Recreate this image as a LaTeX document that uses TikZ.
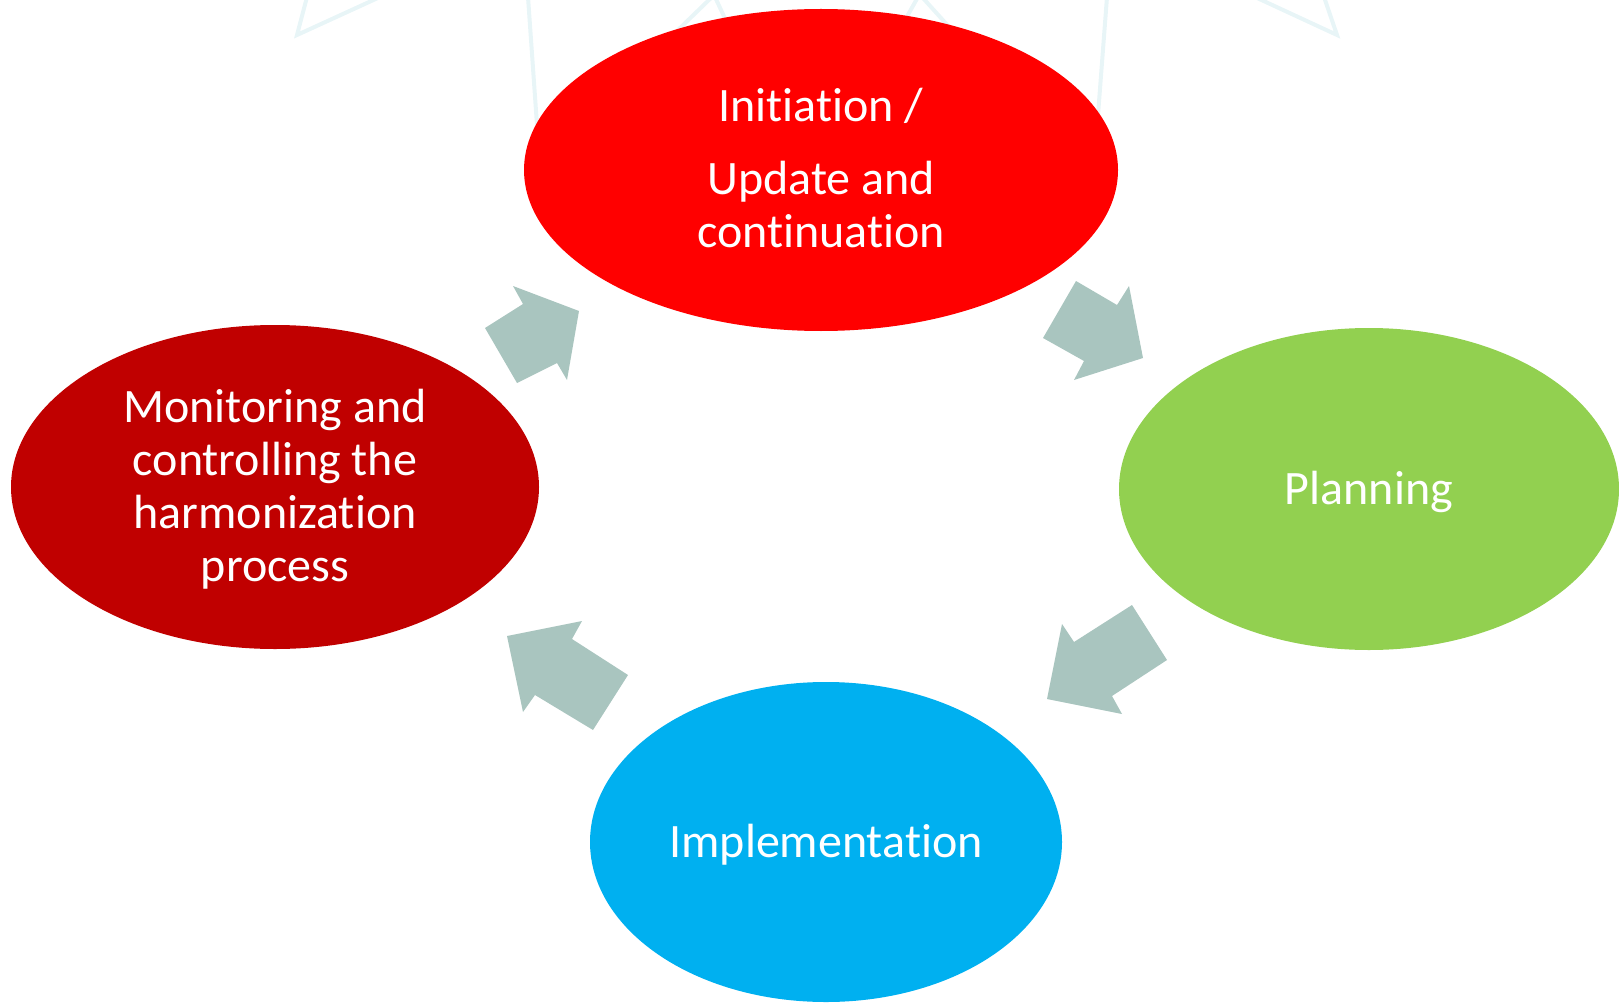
\documentclass[tikz,border=0pt]{standalone}
\usepackage{fontspec}
\setmainfont{Carlito}[Ligatures={NoCommon}]
\usetikzlibrary{shapes.geometric}
\definecolor{cRed}{HTML}{FF0000}
\definecolor{cDark}{HTML}{C00000}
\definecolor{cGreen}{HTML}{92D050}
\definecolor{cBlue}{HTML}{00B0F0}
\definecolor{cArrow}{HTML}{A9C5BF}
\definecolor{cFaint}{HTML}{E8F5F7}
\tikzset{
  phase/.style={ellipse, inner sep=0pt, text=white, align=center,
    font=\fontsize{48}{53}\selectfont},
  blockarrow/.style={fill=cArrow, draw=none},
  faint/.style={draw=cFaint, line width=4pt, line join=miter}
}
\begin{document}
\begin{tikzpicture}[x=1pt,y=-1pt]
\useasboundingbox (0,0) rectangle (1619,1003);
% faint background lines
\draw[faint] (307,-3) -- (297,35) -- (380,-3);
\draw[faint] (528,-3) -- (537,125);
\draw[faint] (678,30) -- (712,-3);
\draw[faint] (715,-3) -- (728,25);
\draw[faint] (905,20) -- (918,-3);
\draw[faint] (922,-3) -- (950,28);
\draw[faint] (1107,-3) -- (1098,115);
\draw[faint] (1255,-3) -- (1337,35) -- (1324,-3);
% phases
\node[phase, fill=cRed, minimum width=594pt, minimum height=322pt] (init) at (821,170) {};
\node[phase, fill=cGreen, minimum width=500pt, minimum height=322pt] (plan) at (1369,489) {};
\node[phase, fill=cBlue, minimum width=472pt, minimum height=320pt] (impl) at (826,842) {};
\node[phase, fill=cDark, minimum width=528pt, minimum height=324pt] (mon) at (275,487) {};
\node[phase] (initT) at (821,168) {Initiation /\\[20pt]Update and\\continuation};
\node[phase] (planT) at (1369,492) {Planning};
\node[phase] (implT) at (826,845) {Implementation};
\node[phase] (monT) at (275,489) {Monitoring and\\controlling the\\harmonization\\process};
% block arrows
\fill[blockarrow] (485,328) -- (523,304) -- (513,286) -- (579,311) -- (567,380) -- (557,363) -- (517,383) -- cycle;
\fill[blockarrow] (1076,281) -- (1117,305) -- (1129,286) -- (1143,358) -- (1074,380) -- (1084,361) -- (1043,338) -- cycle;
\fill[blockarrow] (1132,605) -- (1167,660) -- (1112,696) -- (1122,714) -- (1047,699) -- (1062,624) -- (1074,642) -- cycle;
\fill[blockarrow] (628,675) -- (593,730) -- (535,695) -- (523,712) -- (507,636) -- (582,621) -- (572,639) -- cycle;
\end{tikzpicture}
\end{document}
